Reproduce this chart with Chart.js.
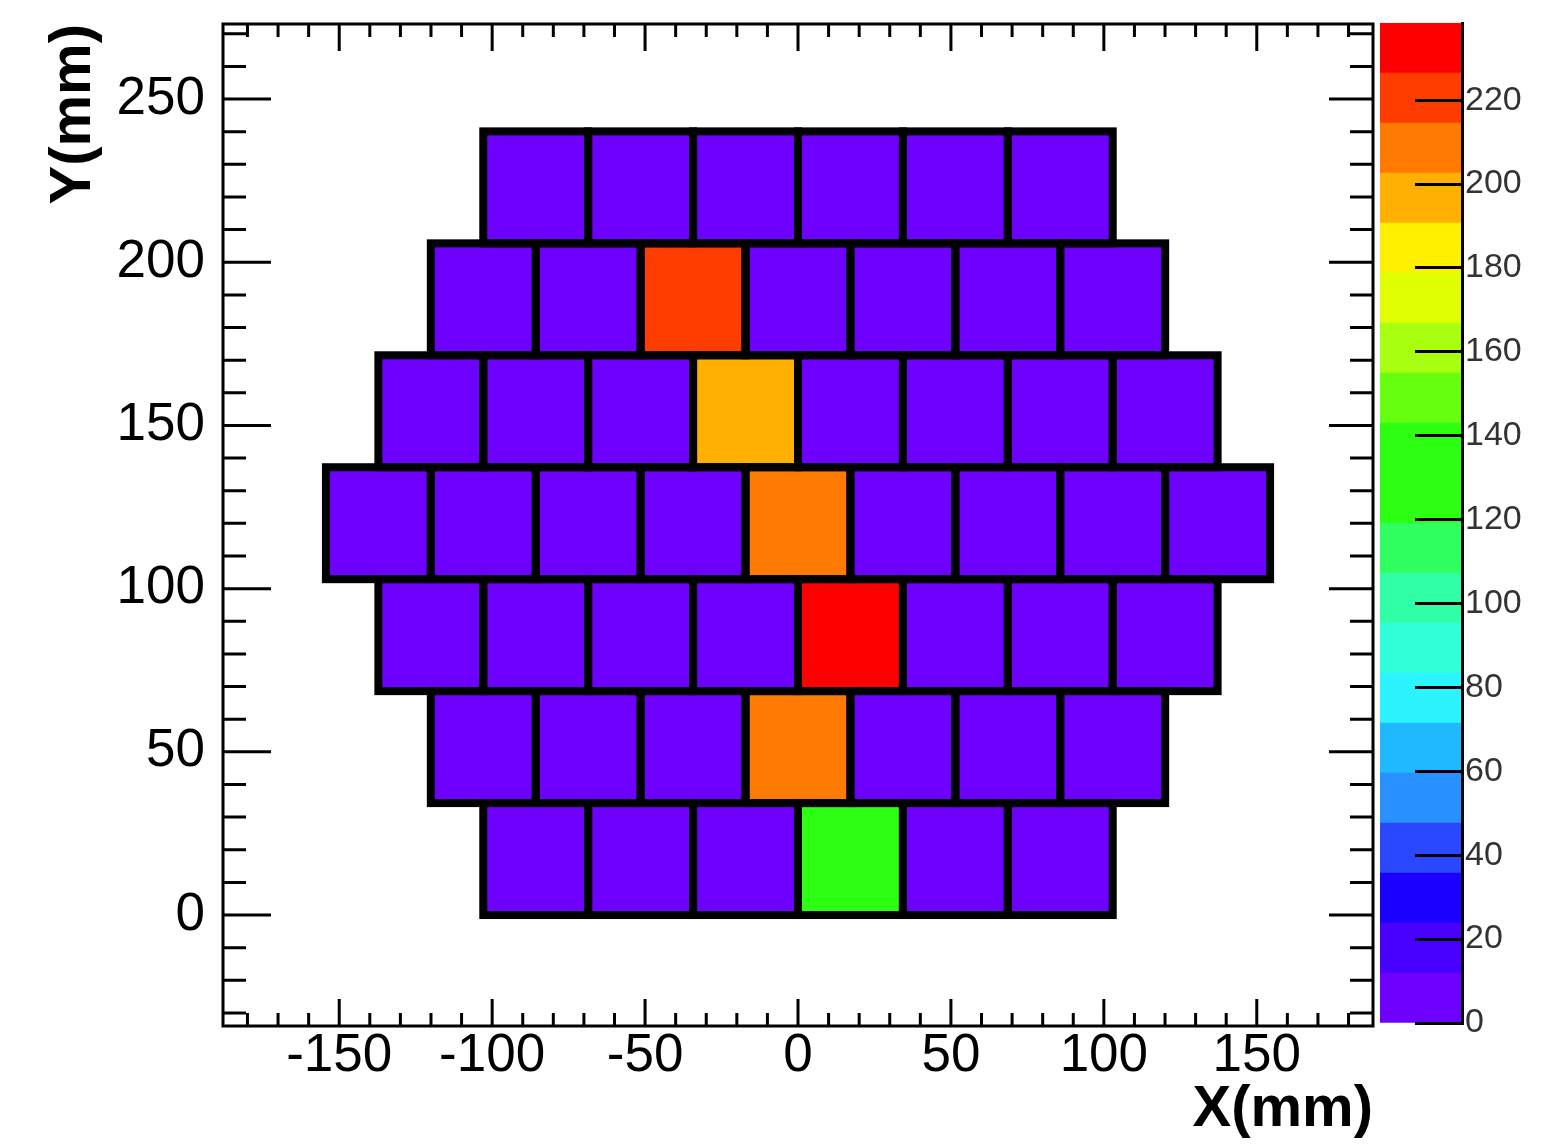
<!DOCTYPE html>
<html>
<head>
<meta charset="utf-8">
<script src="https://cdn.jsdelivr.net/npm/chart.js@4"></script>
<style>
  html, body { margin: 0; padding: 0; background: #fff; overflow: hidden; }
  #wrap { position: relative; width: 1552px; height: 1145px; background: #fff; }
  #main { position: absolute; left: 0; top: 0; }
  #pal { position: absolute; left: 1380px; top: 0; }
</style>
</head>
<body>
<div id="wrap">
  <canvas id="main" width="1552" height="1145"></canvas>
  <canvas id="pal" width="172" height="1145"></canvas>
</div>
<script>
// ---------------- data (mm / counts) ----------------
const rowY0 = [0, 34.3, 68.6, 102.9, 137.2, 171.5, 205.8];          // bottom edge of each row (mm)
const rowX0 = [-102.9, -120.05, -137.2, -154.35, -137.2, -120.05, -102.9]; // left edge of each row (mm)
const cellW = 34.3;   // cell width (mm)
const cellH = 34.3;   // cell height (mm)
const cellValues = [
  [3, 2, 4, 131, 3, 2],
  [2, 4, 3, 208, 5, 3, 2],
  [2, 3, 4, 6, 238, 5, 3, 2],
  [1, 2, 3, 5, 207, 6, 4, 2, 1],
  [2, 3, 5, 196, 6, 4, 3, 2],
  [2, 4, 222, 5, 4, 3, 2],
  [1, 2, 3, 3, 2, 1]
];
const xRange = [-188, 188];
const yRange = [-34, 273];
const zMax = 238.4;
const nLevels = 20;
const xTitle = 'X(mm)';
const yTitle = 'Y(mm)';

// ---------------- styles ----------------
const palette = [
  '#6e00ff', '#4800ff', '#1c00ff', '#2a48ff', '#2890ff',
  '#20b8ff', '#2cf4ff', '#30ffd8', '#30ffa8', '#30ff60',
  '#2cff12', '#2cff12', '#66ff10', '#a8ff10', '#e0ff00',
  '#fff000', '#ffb000', '#ff7a00', '#ff3c00', '#ff0000'
];
const FONT = '"Liberation Sans", Arial, Helvetica, sans-serif';
Chart.defaults.font.family = FONT;
Chart.defaults.color = '#000';

function levelColor(v) {
  let k = Math.floor(v / zMax * nLevels);
  k = Math.max(0, Math.min(nLevels - 1, k));
  return palette[k];
}
function noPad(s) { s.paddingTop = 0; s.paddingBottom = 0; s.paddingLeft = 0; s.paddingRight = 0; }

// build cell list from arrays
const cells = [];
cellValues.forEach((row, r) => {
  row.forEach((v, i) => {
    cells.push({ x: rowX0[r] + (i + 0.5) * cellW, y: rowY0[r] + cellH / 2, v: v });
  });
});

const cellPlugin = {
  id: 'cells',
  beforeDatasetsDraw(chart) {
    const ctx = chart.ctx, xs = chart.scales.x, ys = chart.scales.y;
    const pts = chart.data.datasets[0].data;
    const rects = pts.map(p => {
      const x1 = xs.getPixelForValue(p.x - cellW / 2), x2 = xs.getPixelForValue(p.x + cellW / 2);
      const y1 = ys.getPixelForValue(p.y + cellH / 2), y2 = ys.getPixelForValue(p.y - cellH / 2);
      return { x: x1, y: y1, w: x2 - x1, h: y2 - y1, c: levelColor(p.v) };
    });
    ctx.save();
    rects.forEach(r => { ctx.fillStyle = r.c; ctx.fillRect(r.x, r.y, r.w, r.h); });
    ctx.strokeStyle = '#000';
    ctx.lineWidth = 8;
    ctx.lineJoin = 'miter';
    rects.forEach(r => { ctx.strokeRect(r.x, r.y, r.w, r.h); });
    ctx.restore();
  },
  afterDraw(chart) {
    const ctx = chart.ctx, a = chart.chartArea, xs = chart.scales.x, ys = chart.scales.y;
    ctx.save();
    ctx.strokeStyle = '#000';
    ctx.lineWidth = 3;
    ctx.beginPath();
    xs.ticks.forEach(t => {
      const px = xs.getPixelForValue(t.value);
      const major = t.value % 50 === 0;
      const L = major ? 27 : 13;
      ctx.moveTo(px, a.bottom); ctx.lineTo(px, a.bottom - L);
      ctx.moveTo(px, a.top); ctx.lineTo(px, a.top + L);
    });
    ys.ticks.forEach(t => {
      const py = ys.getPixelForValue(t.value);
      const major = t.value % 50 === 0;
      ctx.moveTo(a.left, py); ctx.lineTo(a.left + (major ? 48 : 23), py);
      ctx.moveTo(a.right, py); ctx.lineTo(a.right - (major ? 44 : 23), py);
    });
    ctx.stroke();
    ctx.lineWidth = 3;
    ctx.strokeRect(a.left, a.top, a.right - a.left, a.bottom - a.top);
    ctx.restore();
  }
};

new Chart(document.getElementById('main'), {
  type: 'scatter',
  data: { datasets: [{ data: cells, pointRadius: 0, showLine: false }] },
  options: {
    responsive: false, animation: false, devicePixelRatio: 1, events: [],
    layout: { padding: { top: 24, right: 179, left: 0, bottom: 0 } },
    plugins: { legend: { display: false }, tooltip: { enabled: false } },
    scales: {
      x: {
        type: 'linear', position: 'bottom', min: xRange[0], max: xRange[1],
        grid: { display: false, drawTicks: false }, border: { display: false },
        ticks: {
          stepSize: 10, includeBounds: false, autoSkip: false, maxRotation: 0, minRotation: 0,
          padding: 4, color: '#000', font: { size: 53, family: FONT, lineHeight: 1 },
          callback: v => (v % 50 === 0 ? String(v) : '')
        },
        title: { display: true, text: xTitle, align: 'end', color: '#000', padding: 0,
                 font: { size: 58, weight: 'bold', family: FONT, lineHeight: 1.2 } },
        afterFit: s => { s.height = 119; noPad(s); }
      },
      y: {
        type: 'linear', position: 'left', min: yRange[0], max: yRange[1],
        grid: { display: false, drawTicks: false }, border: { display: false },
        ticks: {
          stepSize: 10, includeBounds: false, autoSkip: false,
          padding: 18, color: '#000', font: { size: 53, family: FONT, lineHeight: 1 },
          callback: v => (v % 50 === 0 ? String(v) : '')
        },
        title: { display: true, text: yTitle, align: 'end', color: '#000', padding: { top: 39, bottom: 0 },
                 font: { size: 58, weight: 'bold', family: FONT, lineHeight: 1.2 } },
        afterFit: s => { s.width = 223; noPad(s); }
      }
    }
  },
  plugins: [cellPlugin]
});

// ---------------- colour palette axis ----------------
const levelStep = zMax / nLevels;
const palDatasets = palette.map((c, k) => ({
  data: [[k * levelStep, (k + 1) * levelStep]],
  backgroundColor: c, borderWidth: 0, barPercentage: 1, categoryPercentage: 1, grouped: false
}));

new Chart(document.getElementById('pal'), {
  type: 'bar',
  data: { labels: [''], datasets: palDatasets },
  options: {
    responsive: false, animation: false, devicePixelRatio: 1, events: [],
    layout: { padding: { top: 23, bottom: 122, left: 0, right: 0 } },
    plugins: { legend: { display: false }, tooltip: { enabled: false } },
    scales: {
      x: { display: false },
      y: {
        position: 'right', min: 0, max: zMax,
        grid: { z: 1, drawOnChartArea: false, drawTicks: true, tickLength: -47, tickColor: '#000', tickWidth: 3 },
        border: { z: 1, display: true, color: '#000', width: 3 },
        ticks: { z: 1, stepSize: 20, includeBounds: false, padding: 50, color: '#333',
                 font: { size: 34, family: FONT, lineHeight: 1 } },
        afterFit: s => { s.width = 90; noPad(s); }
      }
    }
  }
});
</script>
</body>
</html>
